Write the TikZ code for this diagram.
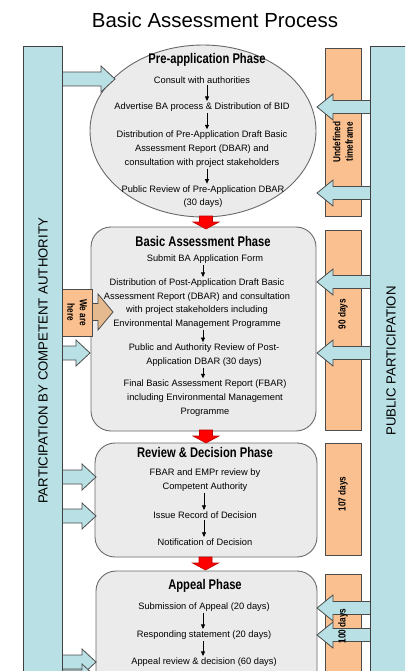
\documentclass[tikz,border=0pt]{standalone}
\usepackage{fontspec}
\setmainfont{Liberation Sans}
\newfontfamily\condensed[FakeStretch=0.8]{Liberation Sans}
\usetikzlibrary{arrows.meta,shapes.geometric}

\definecolor{paleblue}{RGB}{185,224,228}
\definecolor{barorange}{RGB}{250,192,144}
\definecolor{hereTan}{RGB}{228,186,142}
\definecolor{phasegray}{RGB}{235,235,235}
\definecolor{edgegray}{RGB}{105,105,105}

\tikzset{
  bluebar/.style={draw=black!75,fill=paleblue,line width=0.8pt},
  orangebar/.style={draw=black!70,fill=barorange,line width=0.8pt},
  phasebox/.style={draw=edgegray,fill=phasegray,line width=0.9pt,rounded corners=20pt},
  phaseoval/.style={ellipse,draw=edgegray,fill=phasegray,line width=0.9pt},
  bluearrow/.style={draw=black!70,fill=paleblue,line width=0.8pt},
  tanarrow/.style={draw=black!70,fill=hereTan,line width=0.8pt},
  redarrow/.style={draw=red!75!black,fill=red,line width=0.6pt},
  steptext/.style={align=center,inner sep=1.5pt,font=\fontsize{9.3}{13.7}\selectfont},
  phasetitle/.style={inner sep=1pt,font=\fontsize{14}{16}\selectfont\condensed\bfseries},
  bartext/.style={align=center,inner sep=1pt,font=\fontsize{10.3}{12.5}\selectfont\condensed\bfseries},
  sidetext/.style={rotate=90,inner sep=0pt,font=\fontsize{13.2}{15}\selectfont},
  steparrow/.style={line width=0.7pt,-{Triangle[length=4.5pt,width=4pt]}}
}

% block arrows: tail x, tip x, y
\newcommand{\toright}[3]{\draw[bluearrow] (#1,#3-7) -- (#2-14,#3-7) -- (#2-14,#3-13) -- (#2,#3) -- (#2-14,#3+13) -- (#2-14,#3+7) -- (#1,#3+7);}
\newcommand{\toleft}[3]{\draw[bluearrow] (#1,#3-6.5) -- (#2+16,#3-6.5) -- (#2+16,#3-13) -- (#2,#3) -- (#2+16,#3+13) -- (#2+16,#3+6.5) -- (#1,#3+6.5);}
% red arrow: x, top y, tip y
\newcommand{\todown}[3]{\draw[redarrow] (#1-6.5,#2) -- (#1-6.5,#3-7) -- (#1-13,#3-7) -- (#1,#3) -- (#1+13,#3-7) -- (#1+6.5,#3-7) -- (#1+6.5,#2) -- cycle;}

\begin{document}
\begin{tikzpicture}[x=1pt,y=-1pt]
 \useasboundingbox (0,0) rectangle (405,671);
 \clip (0,0) rectangle (405,671);

 \node (title) at (215,20) {\fontsize{20.4}{24}\selectfont Basic Assessment Process};

 % time bars
 \draw[orangebar] (325,48) rectangle (361,216);
 \draw[orangebar] (325,230) rectangle (361,430);
 \draw[orangebar] (325,443) rectangle (361,555);
 \draw[orangebar] (325,574) rectangle (361,720);

 % phases
 \node[phaseoval,minimum width=226pt,minimum height=172pt] (preoval) at (203,131) {};
 \draw[phasebox] (91,227) rectangle (316,431);
 \draw[phasebox] (95,443) rectangle (317,557);
 \draw[phasebox] (96,571) rectangle (317,720);
 \todown{206}{216}{229}
 \todown{206}{430}{443}
 \todown{205.5}{557}{570}

 % we are here
 \draw[tanarrow] (80,303.5) -- (98,303.5) -- (98,294) -- (113,312) -- (98,330) -- (98,320.5) -- (80,320.5);
 \draw[orangebar] (62,289) rectangle (92,336);
 \node[bartext,rotate=-90] (here) at (77,312.5) {We are\\here};

 % authority inputs
 \toright{62}{115}{79}
 \toright{62}{90}{353}
 \toright{62}{96}{477}
 \toright{62}{96}{516}
 \toright{62}{96}{662}
 \toright{62}{96}{677}

 % public inputs
 \toleft{370}{317}{107}
 \toleft{370}{317}{193}
 \toleft{370}{317}{282}
 \toleft{370}{317}{353}
 \toleft{370}{317}{608}
 \toleft{370}{317}{635}

 \draw[bluebar] (23,46) rectangle (62,720);
 \draw[bluebar] (370,46) rectangle (420,720);
 \node[sidetext] (authority) at (43,361) {PARTICIPATION BY COMPETENT AUTHORITY};
 \node[sidetext] (public) at (391,361) {PUBLIC PARTICIPATION};

 \node[bartext,rotate=90] (undefined) at (343,142) {Undefined\\timeframe};
 \node[bartext,rotate=90] (ninety) at (343,314) {90 days};
 \node[bartext,rotate=90] (hundredseven) at (343,494) {107 days};
 \node[bartext,rotate=90] (hundred) at (343,626) {100 days};

 % pre-application
 \coordinate (axisone) at (207,0);
 \node[phasetitle] (pretitle) at (207,60) {Pre-application Phase};
 \node[steptext] (consult) at (202,80) {Consult with authorities};
 \node[steptext] (advertise) at (202,107) {Advertise BA process \& Distribution of BID};
 \node[steptext] (predbar) at (202,149) {Distribution of Pre-Application Draft Basic\\Assessment Report (DBAR) and\\consultation with project stakeholders};
 \node[steptext] (prereview) at (203,196.5) {Public Review of Pre-Application DBAR\\(30 days)};
 \draw[steparrow] (consult.south -| axisone) -- (advertise.north -| axisone);
 \draw[steparrow] (advertise.south -| axisone) -- (predbar.north -| axisone);
 \draw[steparrow] (predbar.south -| axisone) -- (prereview.north -| axisone);

 % basic assessment
 \coordinate (axistwo) at (203,0);
 \node[phasetitle] (batitle) at (203,241) {Basic Assessment Phase};
 \node[steptext] (submit) at (205,259) {Submit BA Application Form};
 \node[steptext] (postdbar) at (197,303.5) {Distribution of Post-Application Draft Basic\\Assessment Report (DBAR) and consultation\\with project stakeholders including\\Environmental Management Programme};
 \node[steptext] (postreview) at (204,355) {Public and Authority Review of Post-\\Application DBAR (30 days)};
 \node[steptext] (fbar) at (205,398) {Final Basic Assessment Report (FBAR)\\including Environmental Management\\Programme};
 \draw[steparrow] (submit.south -| axistwo) -- (postdbar.north -| axistwo);
 \draw[steparrow] (postdbar.south -| axistwo) -- (postreview.north -| axistwo);
 \draw[steparrow] (postreview.south -| axistwo) -- (fbar.north -| axistwo);

 % review and decision
 \coordinate (axisthree) at (204,0);
 \node[phasetitle] (rdtitle) at (205,452) {Review \& Decision Phase};
 \node[steptext] (empr) at (205,480) {FBAR and EMPr review by\\Competent Authority};
 \node[steptext] (record) at (205,515) {Issue Record of Decision};
 \node[steptext] (notify) at (205,542) {Notification of Decision};
 \draw[steparrow] (empr.south -| axisthree) -- (record.north -| axisthree);
 \draw[steparrow] (record.south -| axisthree) -- (notify.north -| axisthree);

 % appeal
 \coordinate (axisfour) at (203,0);
 \node[phasetitle] (aptitle) at (205,586) {Appeal Phase};
 \node[steptext] (submission) at (204,607) {Submission of Appeal (20 days)};
 \node[steptext] (responding) at (204,635) {Responding statement (20 days)};
 \node[steptext] (appealreview) at (204,662) {Appeal review \& decision (60 days)};
 \draw[steparrow] (submission.south -| axisfour) -- (responding.north -| axisfour);
 \draw[steparrow] (responding.south -| axisfour) -- (appealreview.north -| axisfour);
\end{tikzpicture}
\end{document}
